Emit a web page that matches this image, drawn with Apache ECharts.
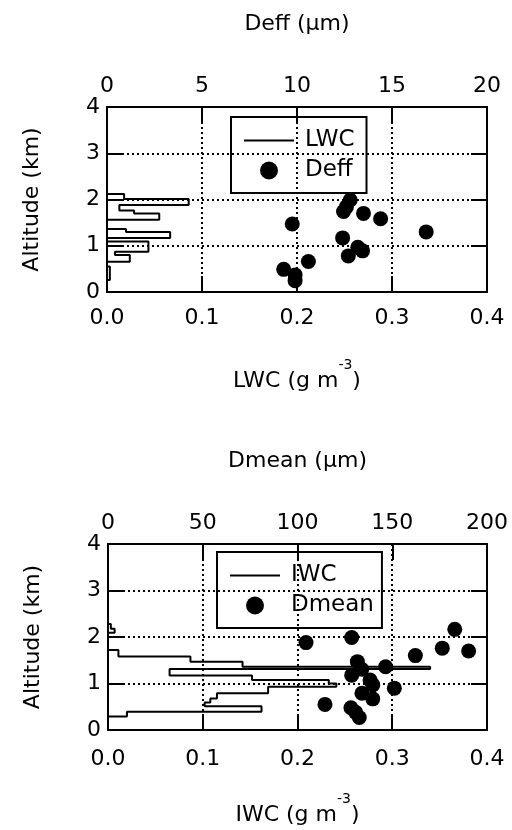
<!DOCTYPE html>
<html>
<head>
<meta charset="utf-8">
<script src="https://cdn.jsdelivr.net/npm/echarts@6/dist/echarts.min.js"></script>
<style>
html, body { margin: 0; padding: 0; background: #fff; }
#main { width: 512px; height: 830px; }
</style>
</head>
<body>
<div id="main"></div>
<script>
// top panel: LWC profile (bin edges in km, value per bin in g m-3)
var lwcEdges = [2.12, 2.01, 1.88, 1.76, 1.70, 1.56, 1.36, 1.30, 1.17, 1.09, 0.87, 0.80, 0.655, 0.55, 0.26, 0.0];
var lwcValues = [0.018, 0.086, 0.013, 0.0285, 0.055, 0, 0.02, 0.0665, 0, 0.0436, 0.0084, 0.024, 0, 0.003, 0];
// top panel: Deff points
var deffAlt = [1.99, 1.84, 1.74, 1.70, 1.585, 1.47, 1.30, 1.17, 0.965, 0.89, 0.78, 0.66, 0.49, 0.37, 0.245];
var deffValues = [12.8, 12.6, 12.45, 13.5, 14.4, 9.75, 16.8, 12.4, 13.2, 13.45, 12.7, 10.6, 9.3, 9.9, 9.9];

// bottom panel: IWC profile
var iwcEdges = [2.28, 2.18, 2.09, 1.72, 1.58, 1.47, 1.36, 1.31, 1.17, 1.075, 1.0, 0.93, 0.79, 0.68, 0.59, 0.51, 0.39, 0.29, 0];
var iwcValues = [0.003, 0.007, 0, 0.011, 0.087, 0.142, 0.34, 0.065, 0.152, 0.233, 0.241, 0.169, 0.115, 0.108, 0.102, 0.162, 0.02, 0];
// bottom panel: Dmean points
var dmeanAlt = [2.165, 1.99, 1.88, 1.76, 1.70, 1.60, 1.47, 1.36, 1.305, 1.18, 1.075, 0.97, 0.90, 0.79, 0.67, 0.55, 0.48, 0.38, 0.27];
var dmeanValues = [183, 128.6, 104.5, 176.4, 190.3, 162.2, 131.6, 146.5, 133.9, 128.6, 138.3, 139.7, 151.1, 134, 139.7, 114.5, 128.2, 130.7, 132.6];

var font = 'DejaVu Sans';
var fs = 22;

function steps(edges, vals) {
  var pts = [[0, edges[0]]];
  for (var i = 0; i < vals.length; i++) {
    pts.push([vals[i], edges[i]]);
    pts.push([vals[i], edges[i + 1]]);
  }
  return pts;
}
function pairs(xs, ys) {
  return xs.map(function (x, i) { return [x, ys[i]]; });
}

var axisLine = { show: true, onZero: false, lineStyle: { color: '#000', width: 2 } };
var tick = { show: true, inside: true, length: 16, lineStyle: { color: '#000', width: 2 } };
var grid = { show: true, color: '#000', width: 2, type: [2, 3] };
var label = { color: '#000', fontSize: fs, fontFamily: font };

function nameStyle() {
  return {
    color: '#000', fontFamily: font, fontSize: fs,
    rich: {
      t: { fontSize: fs, fontFamily: font, color: '#000', verticalAlign: 'bottom', lineHeight: 34 },
      s: { fontSize: 14, fontFamily: font, color: '#000', verticalAlign: 'top', lineHeight: 34 }
    }
  };
}

function bottomX(g, name, margin, gap) {
  return {
    type: 'value', gridIndex: g, position: 'bottom', min: 0, max: 0.4, interval: 0.1,
    axisLine: axisLine, axisTick: tick, splitLine: { lineStyle: grid },
    axisLabel: Object.assign({ margin: margin, formatter: function (v) { return v.toFixed(1); } }, label),
    name: name, nameLocation: 'middle', nameGap: gap, nameTextStyle: nameStyle()
  };
}
function topX(g, max, interval, name) {
  return {
    type: 'value', gridIndex: g, position: 'top', min: 0, max: max, interval: interval,
    axisLine: axisLine, axisTick: tick, splitLine: { show: false },
    axisLabel: Object.assign({ margin: 10 }, label),
    name: name, nameLocation: 'middle', nameGap: 72,
    nameTextStyle: { color: '#000', fontFamily: font, fontSize: fs }
  };
}
function leftY(g) {
  return {
    type: 'value', gridIndex: g, position: 'left', min: 0, max: 4, interval: 1,
    axisLine: axisLine, axisTick: tick, splitLine: { lineStyle: grid },
    axisLabel: Object.assign({ margin: 7 }, label),
    name: 'Altitude (km)', nameLocation: 'middle', nameGap: 64, nameRotate: 90,
    nameTextStyle: { color: '#000', fontFamily: font, fontSize: fs }
  };
}
function rightY(g) {
  return {
    type: 'value', gridIndex: g, position: 'right', min: 0, max: 4, interval: 1,
    axisLine: axisLine, axisTick: tick, splitLine: { show: false }, axisLabel: { show: false }
  };
}
function legend(left, top, lineName, dotName, padRight) {
  return {
    left: left, top: top, orient: 'vertical', itemWidth: 50, itemHeight: 18, itemGap: 7,
    borderColor: '#000', borderWidth: 2, borderRadius: 0, padding: [12, padRight, 11, 12],
    textStyle: { color: '#000', fontFamily: font, fontSize: 23, padding: [0, 0, 0, 6] },
    data: [
      { name: lineName, itemStyle: { color: 'rgba(0,0,0,0)', opacity: 0, borderWidth: 0 } },
      { name: dotName }
    ]
  };
}

var chart = echarts.init(document.getElementById('main'), null, { renderer: 'canvas' });
chart.setOption({
  backgroundColor: '#fff',
  animation: false,
  grid: [
    { left: 107, top: 107, width: 380, height: 185 },
    { left: 108, top: 544, width: 379, height: 186 }
  ],
  xAxis: [
    bottomX(0, '{t|LWC (g m}{s|-3}{t|)}', 15, 66),
    topX(0, 20, 5, 'Deff (µm)'),
    bottomX(1, '{t|IWC (g m}{s|-3}{t|)}', 18, 62),
    topX(1, 200, 50, 'Dmean (µm)')
  ],
  yAxis: [leftY(0), rightY(0), leftY(1), rightY(1)],
  legend: [
    legend(231, 117, 'LWC', 'Deff', 12),
    legend(217, 552, 'IWC', 'Dmean', 8)
  ],
  series: [
    {
      name: 'LWC', type: 'line', xAxisIndex: 0, yAxisIndex: 0, data: steps(lwcEdges, lwcValues),
      symbol: 'none', lineStyle: { color: '#000', width: 2 }, itemStyle: { color: '#000' }
    },
    {
      name: 'Deff', type: 'scatter', xAxisIndex: 1, yAxisIndex: 0, data: pairs(deffValues, deffAlt),
      symbolSize: 15, itemStyle: { color: '#000', opacity: 1 }
    },
    {
      name: 'IWC', type: 'line', xAxisIndex: 2, yAxisIndex: 2, data: steps(iwcEdges, iwcValues),
      symbol: 'none', lineStyle: { color: '#000', width: 2 }, itemStyle: { color: '#000' }
    },
    {
      name: 'Dmean', type: 'scatter', xAxisIndex: 3, yAxisIndex: 2, data: pairs(dmeanValues, dmeanAlt),
      symbolSize: 15, itemStyle: { color: '#000', opacity: 1 }
    }
  ]
});
</script>
</body>
</html>
